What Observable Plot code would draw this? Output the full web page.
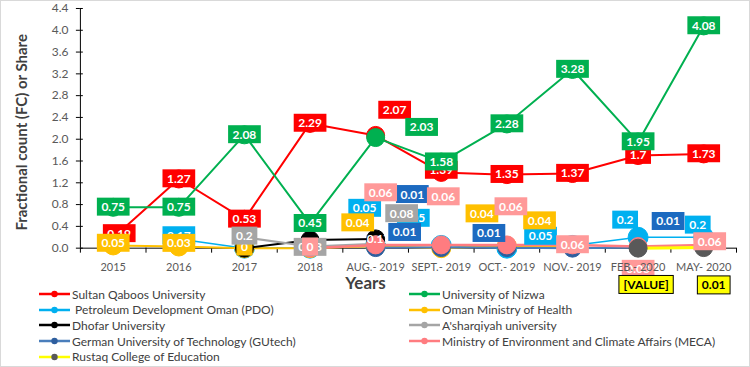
<!DOCTYPE html>
<html>
<head>
<meta charset="utf-8">
<script src="https://cdn.jsdelivr.net/npm/d3@7"></script>
<script src="https://cdn.jsdelivr.net/npm/@observablehq/plot@0.6"></script>
<style>
  body { margin: 0; background: #fff; }
  #wrap { position: relative; width: 748px; height: 365px; border: 1px solid #D9D9D9; overflow: hidden; font-family: Lato, "Open Sans", sans-serif; background: #fff; }
  #chart { position: absolute; left: -1px; top: -1px; }
  .leg { position: absolute; display: flex; align-items: center; font-size: 12px; color: #404040; white-space: pre; height: 14px; }
  .leg svg { display: block; margin-right: 2px; }
</style>
</head>
<body>
<div id="wrap"><div id="chart"></div></div>
<script>
// ---------- data ----------
const categories = ["2015", "2016", "2017", "2018", "AUG.- 2019", "SEPT.- 2019", "OCT.- 2019", "NOV.- 2019", "FEB.- 2020", "MAY- 2020"];
const seriesNames = [
  "Sultan Qaboos University",
  "University of Nizwa",
  " Petroleum Development Oman (PDO)",
  "Oman Ministry of Health",
  "Dhofar University",
  "A'sharqiyah university",
  "German University of Technology (GUtech)",
  "Ministry of Environment and Climate Affairs (MECA)",
  "Rustaq College of Education"
];
const sultanQaboos   = [0.19, 1.27, 0.53, 2.29, 2.07, 1.39, 1.35, 1.37, 1.7, 1.73];
const nizwa          = [0.75, 0.75, 2.08, 0.45, 2.03, 1.58, 2.28, 3.28, 1.95, 4.08];
const pdo            = [null, 0.17, 0, 0, 0.05, 0.05, 0, 0.05, 0.2, 0.2];
const healthMinistry = [0.05, 0.03, 0, 0, 0.04, 0, 0.04, 0.04, null, null];
const dhofar         = [null, null, 0, 0.15, 0.17, null, null, null, null, null];
const asharqiyah     = [null, null, 0.2, 0.03, 0.08, null, null, null, null, null];
const gutech         = [null, null, null, null, 0.01, 0.01, 0.01, 0, 0.01, null];
const meca           = [null, null, null, 0, 0.06, 0.06, 0.06, 0.06, 0.03, 0.06];
const rustaq         = [null, null, null, null, null, null, null, null, 0, 0.01];
const rustaqLabels   = [null, null, null, null, null, null, null, null, "[VALUE]", "0.01"];
const yTicks = [0, 0.4, 0.8, 1.2, 1.6, 2.0, 2.4, 2.8, 3.2, 3.6, 4.0, 4.4];

const allValues = [sultanQaboos, nizwa, pdo, healthMinistry, dhofar, asharqiyah, gutech, meca, rustaq];
const labelTexts = [null, null, null, null, null, null, null, null, rustaqLabels];

// ---------- styles (not data) ----------
const styles = [
  {line: "#FF0000", marker: "#FF0000", box: "#FF0000", text: "#fff", w: 2,   r: 9},
  {line: "#00B050", marker: "#00B050", box: "#00B050", text: "#fff", w: 2,   r: 9},
  {line: "#00B0F0", marker: "#00B0F0", box: "#00B0F0", text: "#fff", w: 1.5, r: 10},
  {line: "#FFC000", marker: "#FFC000", box: "#FFC000", text: "#fff", w: 2,   r: 9.5},
  {line: "#000000", marker: "#000000", box: null,      text: "#fff", w: 2,   r: 9},
  {line: "#A5A5A5", marker: "#A5A5A5", box: "#A5A5A5", text: "#fff", w: 2,   r: 8},
  {line: "#4A7EBB", marker: "#2E5E9E", box: "#1C6AC0", text: "#fff", w: 2,   r: 9},
  {line: "#FF7C80", marker: "#FF7C80", box: "#FF9999", text: "#fff", w: 2.5, r: 9},
  {line: "#FFFF00", marker: "#595959", box: "#FFFF00", text: "#000", w: 3,   r: 9, boxStroke: "#000"}
];
// label nudges in pixels (null = label hidden in the reference)
const labelNudges = [
  [[6,-4],[0,0],[0,0],[0,0],[19,-25],[0,-2],[0,0],[0,0],[0,0],[0,0]],
  [[0,0],[0,0],[0,0],[0,0],[46,-10],[0,0],[0,0],[0,0],[0,0],[0,0]],
  [null,[0,-3],null,null,[-11,-37],[-28,-27],null,[-32,-9],[-13,-17],[-6,-12]],
  [[0,-2],[0,-3],[0,-1],null,[-18,-23],null,[-25,-32],[-33,-25],null,null],
  [null,null,null,null,[3,0],null,null,null,null,null],
  [null,null,[0,-1],[0,1],[26,-30],null,null,null,null,null],
  [null,null,null,null,[29,-15],[-29,-53],[-18,-14],null,[30,-26],null],
  [null,null,null,[0,-1],[5,-52],[2,-48],[4,-38],[0,0],[0,23],[6,-3]],
  [null,null,null,null,null,null,null,null,[8,37],[10,38]]
];

// ---------- build table ----------
const rows = [];
allValues.forEach((vals, s) => {
  vals.forEach((v, i) => {
    if (v == null) return;
    rows.push({s, series: seriesNames[s], cat: categories[i], i, x: i + 0.5, y: v,
      label: labelTexts[s] && labelTexts[s][i] != null ? labelTexts[s][i] : String(v)});
  });
});

const marks = [
  Plot.ruleY([0], {stroke: "#000", strokeWidth: 1}),
  Plot.ruleX([0], {stroke: "#000", strokeWidth: 1}),
  Plot.ruleY(yTicks, {x1: 0, x2: 0.045, stroke: "#000"}),
  Plot.axisY({ticks: yTicks, tickSize: 4, tickPadding: 8, tickFormat: d3.format(".1f"), fontSize: 12, fill: "#595959", stroke: "#000", label: null}),
  Plot.axisX({ticks: d3.range(0, 11), tickSize: 5, tickFormat: () => "", stroke: "#000", label: null}),
  Plot.text(["Fractional count (FC) or Share"], {frameAnchor: "left", textAnchor: "middle", text: d => d, rotate: -90, dx: -58, dy: 4, fontWeight: "bold", fontSize: 15, fill: "#404040", fontFamily: "Lato"}),
  Plot.text(["Years"], {frameAnchor: "bottom", text: d => d, dx: -43, dy: 41, fontWeight: "bold", fontSize: 17, fill: "#404040", fontFamily: "Lato"})
];

seriesNames.forEach((name, s) => {
  const data = rows.filter(d => d.s === s);
  const st = styles[s];
  marks.push(Plot.line(data, {x: "x", y: "y", stroke: st.line, strokeWidth: st.w}));
  marks.push(Plot.dot(data, {x: "x", y: "y", r: st.r, fill: st.marker, stroke: st.marker, strokeWidth: 1}));
});

seriesNames.forEach((name, s) => {
  rows.filter(d => d.s === s).forEach(d => {
    const nud = labelNudges[s][d.i];
    if (!nud) return;
    marks.push(Plot.text([d], {x: "x", y: "y", text: "label", dx: nud[0], dy: nud[1],
      fill: styles[s].text, fontWeight: "bold", fontSize: 12, fontFamily: "Lato", ariaDescription: "lbl-" + s}));
  });
});

// category tick labels drawn last (they sit on top of the low label below the axis)
marks.push(Plot.axisX({ticks: categories.map((c, i) => i + 0.5), tickSize: 0, tickPadding: 15, tickFormat: d => categories[Math.round(d - 0.5)], fontSize: 11, fill: "#595959", label: null}));

const chart = Plot.plot({
  width: 750,
  height: 300,
  marginLeft: 80,
  marginRight: 13,
  marginTop: 8,
  marginBottom: 52,
  style: {fontFamily: "Lato, 'Open Sans', sans-serif", background: "transparent", overflow: "visible"},
  x: {type: "linear", domain: [0, 10]},
  y: {domain: [0, 4.4]},
  marks
});
document.getElementById("chart").append(chart);

// boxes behind data labels
const NS = "http://www.w3.org/2000/svg";
chart.querySelectorAll('g[aria-description^="lbl-"]').forEach(g => {
  const s = +g.getAttribute("aria-description").slice(4);
  const st = styles[s];
  if (!st.box) return;
  g.querySelectorAll("text").forEach(t => {
    const b = t.getBBox();
    const w = b.width + 9, h = 18;
    const r = document.createElementNS(NS, "rect");
    r.setAttribute("x", b.x + b.width / 2 - w / 2);
    r.setAttribute("y", b.y + b.height / 2 - h / 2);
    r.setAttribute("width", w);
    r.setAttribute("height", h);
    r.setAttribute("fill", st.box);
    r.setAttribute("stroke", st.boxStroke || "none");
    if (t.getAttribute("transform")) r.setAttribute("transform", t.getAttribute("transform"));
    t.parentNode.insertBefore(r, t);
  });
});

// legend (HTML, over the lower part of the SVG)
const wrap = document.getElementById("wrap");
seriesNames.forEach((name, s) => {
  const col = s % 2, row = Math.floor(s / 2);
  const div = document.createElement("div");
  div.className = "leg";
  div.style.left = (col === 0 ? 38 : 408) + "px";
  div.style.top = (286 + row * 15.7) + "px";
  const st = styles[s];
  div.innerHTML = `<svg width="31" height="10"><line x1="0" x2="31" y1="5" y2="5" stroke="${st.line}" stroke-width="2.5"/><circle cx="15.5" cy="5" r="3.2" fill="${st.marker}"/></svg>`;
  const span = document.createElement("span");
  span.textContent = name;
  div.append(span);
  wrap.append(div);
});
</script>
</body>
</html>
